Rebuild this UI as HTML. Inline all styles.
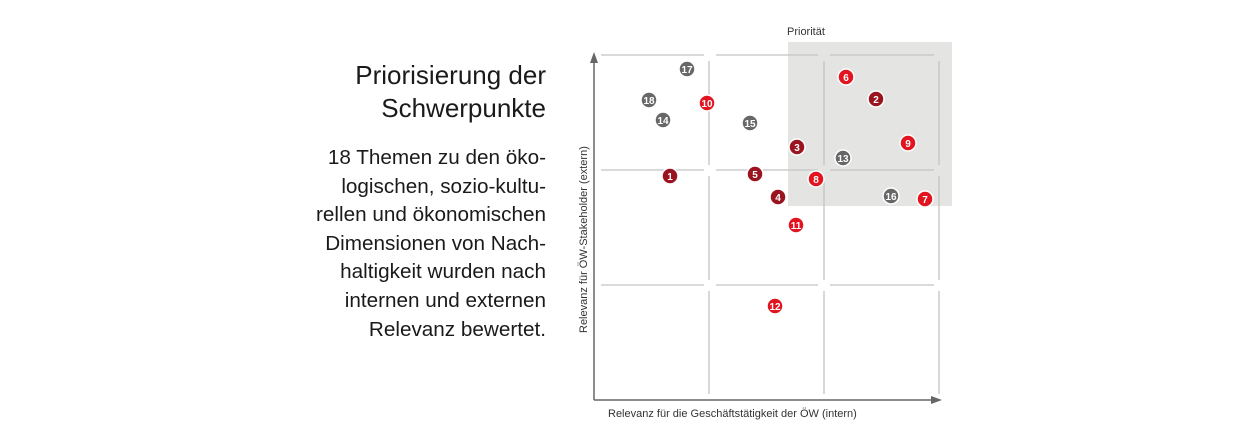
<!DOCTYPE html>
<html><head><meta charset="utf-8"><style>
body{margin:0;width:1240px;height:437px;background:#fff;overflow:hidden;font-family:"Liberation Sans",sans-serif;position:relative}
.t{position:absolute;right:694px;text-align:right;color:#1a1a1a;white-space:nowrap}
</style></head><body>
<div class="t" style="top:59px;font-size:26px;line-height:33px">Priorisierung der<br>Schwerpunkte</div>
<div class="t" style="top:144px;font-size:20.7px;line-height:28.6px">18 Themen zu den öko-<br>logischen, sozio-kultu-<br>rellen und ökonomischen<br>Dimensionen von Nach-<br>haltigkeit wurden nach<br>internen und externen<br>Relevanz bewertet.</div>
<svg width="1240" height="437" style="position:absolute;left:0;top:0" font-family="Liberation Sans, sans-serif">
<rect x="788" y="42" width="164" height="164" fill="#e4e4e3"/>
<text x="787" y="35" font-size="11" fill="#333">Priorität</text>
<g stroke="#c4c4c4" stroke-width="1.3">
<line x1="601" y1="55" x2="704" y2="55"/><line x1="716" y1="55" x2="818" y2="55"/><line x1="830" y1="55" x2="934" y2="55"/>
<line x1="601" y1="170" x2="704" y2="170"/><line x1="716" y1="170" x2="818" y2="170"/><line x1="830" y1="170" x2="934" y2="170"/>
<line x1="601" y1="285" x2="704" y2="285"/><line x1="716" y1="285" x2="818" y2="285"/><line x1="830" y1="285" x2="934" y2="285"/>
<line x1="709" y1="61" x2="709" y2="165"/><line x1="709" y1="176" x2="709" y2="280"/><line x1="709" y1="291" x2="709" y2="394"/>
<line x1="824" y1="61" x2="824" y2="165"/><line x1="824" y1="176" x2="824" y2="280"/><line x1="824" y1="291" x2="824" y2="394"/>
<line x1="939" y1="61" x2="939" y2="165"/><line x1="939" y1="176" x2="939" y2="280"/><line x1="939" y1="291" x2="939" y2="394"/>
</g>
<g stroke="#666" stroke-width="1.5"><line x1="594" y1="62" x2="594" y2="400"/><line x1="594" y1="400" x2="934" y2="400"/></g>
<polygon points="594,52 590,63 598,63" fill="#666"/><polygon points="942,400 931,396 931,404" fill="#666"/>
<text x="608" y="417" font-size="11" fill="#333">Relevanz für die Geschäftstätigkeit der ÖW (intern)</text>
<text transform="translate(587,333) rotate(-90)" font-size="11" fill="#333">Relevanz für ÖW-Stakeholder (extern)</text>
<g stroke="#fff" stroke-width="1.5">
<g fill="#676767"><circle cx="687" cy="69" r="8"/><circle cx="649" cy="100" r="8"/><circle cx="663" cy="120" r="8"/><circle cx="750" cy="123" r="8"/><circle cx="843" cy="158" r="8"/><circle cx="891" cy="196" r="8"/></g>
<g fill="#9a1420"><circle cx="876" cy="99" r="8"/><circle cx="797" cy="147" r="8"/><circle cx="670" cy="176" r="8"/><circle cx="755" cy="174" r="8"/><circle cx="778" cy="197" r="8"/></g>
<g fill="#e2141f"><circle cx="846" cy="77" r="8"/><circle cx="707" cy="103" r="8"/><circle cx="908" cy="143" r="8"/><circle cx="816" cy="179" r="8"/><circle cx="925" cy="199" r="8"/><circle cx="796" cy="225" r="8"/><circle cx="775" cy="306" r="8"/></g>
</g>
<g font-size="10" font-weight="bold" fill="#fff" text-anchor="middle">
<text x="687" y="73">17</text><text x="649" y="104">18</text><text x="663" y="124">14</text><text x="750" y="127">15</text><text x="843" y="162">13</text><text x="891" y="200">16</text>
<text x="876" y="103">2</text><text x="797" y="151">3</text><text x="670" y="180">1</text><text x="755" y="178">5</text><text x="778" y="201">4</text>
<text x="846" y="81">6</text><text x="707" y="107">10</text><text x="908" y="147">9</text><text x="816" y="183">8</text><text x="925" y="203">7</text><text x="796" y="229">11</text><text x="775" y="310">12</text>
</g>
</svg>
</body></html>
